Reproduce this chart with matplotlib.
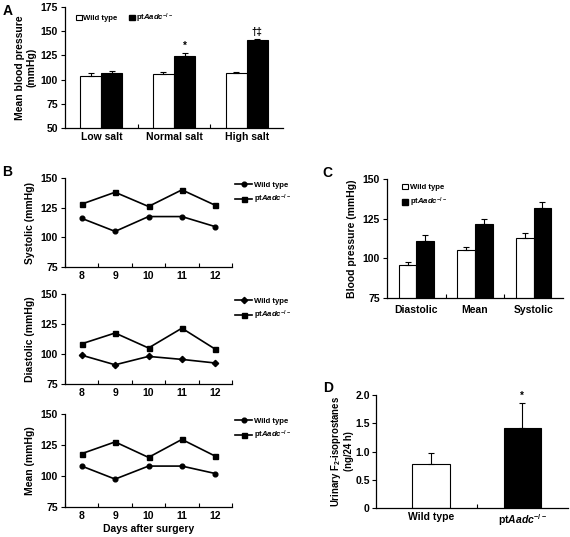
import matplotlib
matplotlib.use("Agg")
import matplotlib.pyplot as plt
from matplotlib.patches import Patch
import numpy as np

plt.rcParams['font.family'] = ['Liberation Sans', 'DejaVu Sans']
plt.rcParams['font.weight'] = 'bold'
plt.rcParams['mathtext.fontset'] = 'custom'
plt.rcParams['mathtext.rm'] = 'Liberation Sans:bold'
plt.rcParams['mathtext.it'] = 'Liberation Sans:italic:bold'
plt.rcParams['mathtext.bf'] = 'Liberation Sans:bold'
plt.rcParams['axes.linewidth'] = 0.9

KO = r'pt$\mathit{Aadc}^{-/-}$'

# Panel A
a_cats = ['Low salt', 'Normal salt', 'High salt']
a_wt = [104, 105.5, 106.5]
a_wt_err = [3, 2.8, 1.8]
a_ko = [106.5, 124.5, 140.5]
a_ko_err = [2.7, 3, 1.8]
a_marks = ['', '*', '†‡']

# Panel B
days = [8, 9, 10, 11, 12]
sys_wt = [116, 105, 117.5, 117.5, 109]
sys_ko = [128, 138, 126, 140, 127]
dia_wt = [99, 91, 98, 95.5, 92.5]
dia_ko = [108.5, 117.5, 105, 121.5, 104]
mean_wt = [108, 97.5, 108, 108, 102]
mean_ko = [118, 127.5, 115, 129.5, 116]

# Panel C
c_cats = ['Diastolic', 'Mean', 'Systolic']
c_wt = [95.5, 105, 113]
c_wt_err = [2.2, 2, 3]
c_ko = [111, 121.5, 132]
c_ko_err = [3.8, 3, 3.3]

# Panel D
d_cats = ['Wild type', KO]
d_vals = [0.77, 1.41]
d_err = [0.21, 0.45]

W, H = 570, 537
fig = plt.figure(figsize=(W / 100, H / 100), dpi=100)


def add_ax(l, t, r, b, ypad=2, xpad=3):
    ax = fig.add_axes([l / W, 1 - b / H, (r - l) / W, (b - t) / H])
    ax.spines['top'].set_visible(False)
    ax.spines['right'].set_visible(False)
    ax.tick_params(axis='y', direction='out', length=3, width=0.8, labelsize=7.5, pad=ypad)
    ax.tick_params(axis='x', which='major', length=0, labelsize=7.5, pad=xpad)
    ax.tick_params(axis='x', which='minor', direction='in', length=3, width=0.8)
    return ax


FS = 7.5
LFS = 5.6
EB = dict(fmt='none', ecolor='black', elinewidth=0.8, capsize=2, capthick=0.8)

# ---- Panel A ----
ax = add_ax(65, 7, 283, 128)
x = np.arange(len(a_cats))
w = 0.29
ax.bar(x - w / 2, a_wt, w, color='white', edgecolor='black', linewidth=0.8, zorder=2)
ax.bar(x + w / 2, a_ko, w, color='black', edgecolor='black', linewidth=0.8, zorder=2)
ax.errorbar(x - w / 2, a_wt, yerr=[np.zeros(3), a_wt_err], **EB)
ax.errorbar(x + w / 2, a_ko, yerr=[np.zeros(3), a_ko_err], **EB)
for xi, v, e, m in zip(x, a_ko, a_ko_err, a_marks):
    if m:
        ax.text(xi + w / 2, v + e + 2, m, ha='center', va='bottom', fontsize=7)
ax.set_xlim(-0.5, 2.5)
ax.set_ylim(50, 175)
ax.set_yticks([50, 75, 100, 125, 150, 175])
ax.set_xticks(x)
ax.set_xticklabels(a_cats)
ax.set_xticks([0.5, 1.5], minor=True)
ax.set_ylabel('Mean blood pressure\n(mmHg)', fontsize=FS, fontweight='bold', labelpad=3)
ax.legend(handles=[Patch(facecolor='white', edgecolor='black', linewidth=0.8, label='Wild type'),
                   Patch(facecolor='black', edgecolor='black', label=KO)],
          loc='upper left', bbox_to_anchor=(0.03, 1.0), ncol=2, frameon=False, fontsize=LFS,
          handlelength=0.7, handleheight=0.7, handletextpad=0.2, columnspacing=1.5, borderaxespad=0.2)
fig.text(3 / W, 1 - 11 / H, 'A', fontsize=10, fontweight='bold', va='center', ha='left')

# ---- Panel B ----
b_specs = [
    (178, 267, sys_wt, sys_ko, 'Systolic (mmHg)', 'o'),
    (294, 384, dia_wt, dia_ko, 'Diastolic (mmHg)', 'D'),
    (414, 507, mean_wt, mean_ko, 'Mean (mmHg)', 'o'),
]
for i, (t, b, wt, ko, lab, mk) in enumerate(b_specs):
    ax = add_ax(65, t, 232, b)
    ms_wt = 3.4 if mk == 'o' else 3.2
    ax.plot(days, wt, color='black', lw=1.2, marker=mk, ms=ms_wt, label='Wild type')
    ax.plot(days, ko, color='black', lw=1.2, marker='s', ms=3.6, label=KO)
    ax.set_xlim(7.5, 12.5)
    ax.set_ylim(75, 150)
    ax.set_yticks([75, 100, 125, 150])
    ax.set_xticks(days)
    ax.set_xticks(np.arange(7.5, 12.6, 1.0), minor=True)
    ax.set_ylabel(lab, fontsize=FS, fontweight='bold', labelpad=4)
    ax.legend(loc='upper left', bbox_to_anchor=(1.0, 1.0), frameon=False, fontsize=LFS,
              handlelength=2.2, handletextpad=0.2, labelspacing=0.55, borderaxespad=0.0)
    if i == 2:
        ax.set_xlabel('Days after surgery', fontsize=FS, fontweight='bold', labelpad=2)
fig.text(2 / W, 1 - 172 / H, 'B', fontsize=10, fontweight='bold', va='center', ha='left')

# ---- Panel C ----
ax = add_ax(387, 179, 563, 298, xpad=5)
x = np.arange(len(c_cats))
w = 0.3
ax.bar(x - w / 2, c_wt, w, color='white', edgecolor='black', linewidth=0.8, zorder=2)
ax.bar(x + w / 2, c_ko, w, color='black', edgecolor='black', linewidth=0.8, zorder=2)
ax.errorbar(x - w / 2, c_wt, yerr=[np.zeros(3), c_wt_err], **EB)
ax.errorbar(x + w / 2, c_ko, yerr=[np.zeros(3), c_ko_err], **EB)
ax.set_xlim(-0.5, 2.5)
ax.set_ylim(75, 150)
ax.set_yticks([75, 100, 125, 150])
ax.set_xticks(x)
ax.set_xticklabels(c_cats)
ax.set_xticks([0.5, 1.5], minor=True)
ax.set_ylabel('Blood pressure (mmHg)', fontsize=FS, fontweight='bold', labelpad=4)
ax.legend(handles=[Patch(facecolor='white', edgecolor='black', linewidth=0.8, label='Wild type'),
                   Patch(facecolor='black', edgecolor='black', label=KO)],
          loc='upper left', bbox_to_anchor=(0.06, 1.0), ncol=1, frameon=False, fontsize=LFS,
          handlelength=0.7, handleheight=0.7, handletextpad=0.3, labelspacing=0.6, borderaxespad=0.2)
fig.text(322 / W, 1 - 173 / H, 'C', fontsize=10, fontweight='bold', va='center', ha='left')

# ---- Panel D ----
ax = add_ax(376, 395, 568, 508, ypad=1.5)
x = np.arange(len(d_cats))
w = 0.41
ax.bar(x, d_vals, w, color=['white', 'black'], edgecolor='black', linewidth=0.8, zorder=2)
ax.errorbar(x, d_vals, yerr=[np.zeros(2), d_err], **EB)
ax.text(1, d_vals[1] + d_err[1] + 0.03, '*', ha='center', va='bottom', fontsize=7)
ax.set_xlim(-0.6, 1.5)
ax.set_ylim(0, 2.0)
ax.set_yticks([0, 0.5, 1.0, 1.5, 2.0])
ax.set_yticklabels(['0', '0.5', '1.0', '1.5', '2.0'])
ax.set_xticks(x)
ax.set_xticklabels(d_cats)
ax.set_xticks([0.5], minor=True)
ax.set_ylabel('Urinary F$_2$-isoprostanes\n(ng/24 h)', fontsize=6.9, fontweight='bold', labelpad=1,
              linespacing=1.1)
fig.text(323 / W, 1 - 388 / H, 'D', fontsize=10, fontweight='bold', va='center', ha='left')

fig.savefig('out.png', dpi=100)
